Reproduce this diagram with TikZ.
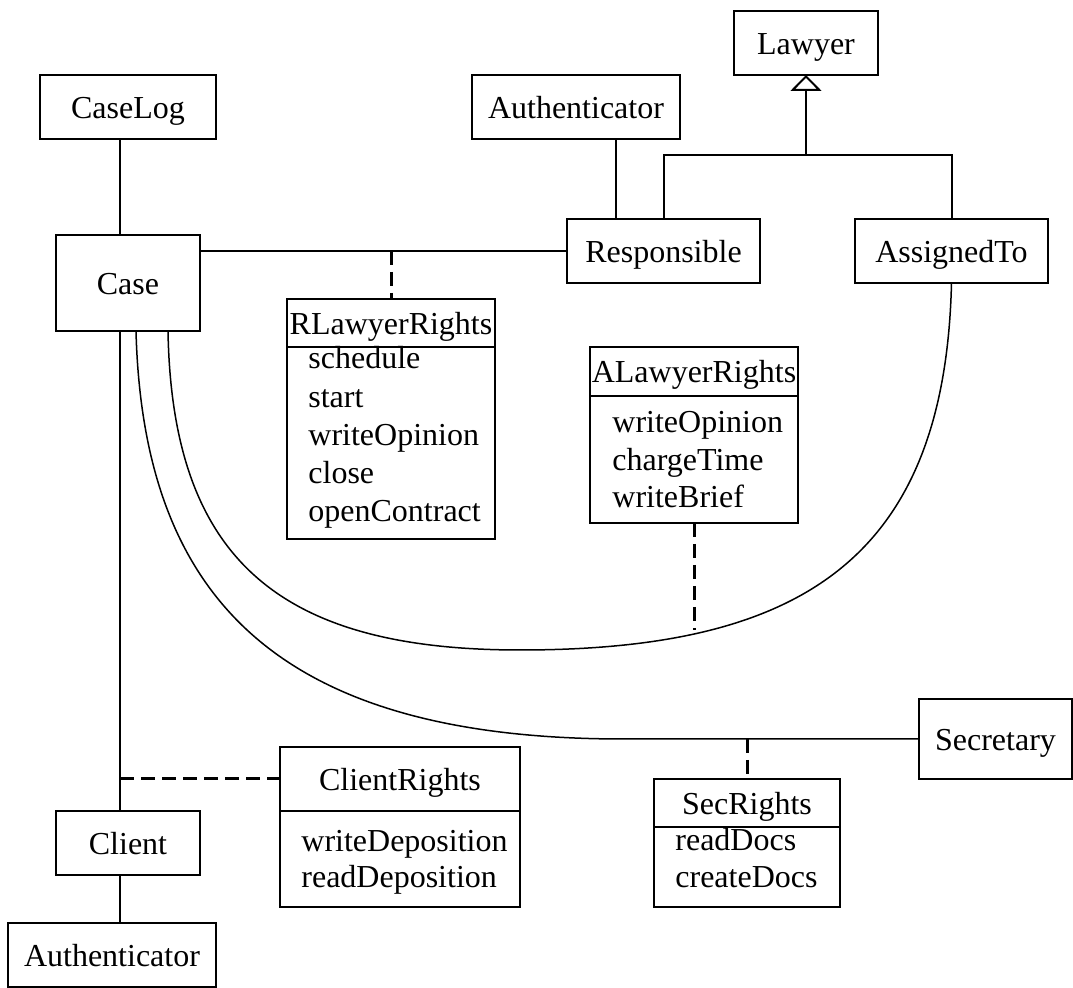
\documentclass[tikz,border=0pt]{standalone}
\usepackage{fontspec}
\setmainfont{Liberation Serif}
\usetikzlibrary{arrows.meta,calc}

\tikzset{
  every node/.style={font=\fontsize{16}{19}\selectfont},
  box/.style={draw, line width=1pt, inner sep=0pt, outer sep=0pt, text height=11.2pt, text depth=0pt},
  item/.style={anchor=base west, inner sep=0pt},
  link/.style={line width=1pt},
  curvelink/.style={line width=0.75pt},
  assoc/.style={line width=1.5pt, dash pattern=on 7pt off 3.5pt},
}

\begin{document}
\begin{tikzpicture}[x=0.5pt, y=-0.5pt]
\useasboundingbox (0,0) rectangle (1073,988);

% plain classes
\node[box, minimum width=88pt, minimum height=32pt] (caselog) at (128,107) {CaseLog};
\node[box, minimum width=72pt, minimum height=48pt] (case) at (128,283) {Case};
\node[box, minimum width=104pt, minimum height=32pt] (authT) at (576,107) {Authenticator};
\node[box, minimum width=72pt, minimum height=32pt] (lawyer) at (806,43) {Lawyer};
\node[box, minimum width=96.5pt, minimum height=32pt] (resp) at (663.5,251) {Responsible};
\node[box, minimum width=96.5pt, minimum height=32pt] (assigned) at (951.5,251) {AssignedTo};
\node[box, minimum width=72pt, minimum height=32pt] (client) at (128,843) {Client};
\node[box, minimum width=104pt, minimum height=32pt] (authB) at (112,955) {Authenticator};
\node[box, minimum width=76.5pt, minimum height=40pt] (secretary) at (995.5,739) {Secretary};

% association classes: header and operations compartment
\node[box, minimum width=104pt, minimum height=24pt] (rlrh) at (391,323) {RLawyerRights};
\node[box, minimum width=104pt, minimum height=96pt, anchor=north] (rlrb) at (rlrh.south) {};
\node[item] (r1) at (308,369) {schedule};
\node[item] (r2) at (308,408) {start};
\node[item] (r3) at (308,446) {writeOpinion};
\node[item] (r4) at (308,484) {close};
\node[item] (r5) at (308,522) {openContract};

\node[box, minimum width=104pt, minimum height=24.5pt] (alrh) at (694,371.5) {ALawyerRights};
\node[box, minimum width=104pt, minimum height=63.5pt, anchor=north] (alrb) at (alrh.south) {};
\node[item] (a1) at (612,433) {writeOpinion};
\node[item] (a2) at (612,471) {chargeTime};
\node[item] (a3) at (612,508) {writeBrief};

\node[box, minimum width=120pt, minimum height=32pt] (crh) at (400,779) {ClientRights};
\node[box, minimum width=120pt, minimum height=48pt, anchor=north] (crb) at (crh.south) {};
\node[item] (c1) at (301,852) {writeDeposition};
\node[item] (c2) at (301,888) {readDeposition};

\node[box, minimum width=93pt, minimum height=24pt] (srh) at (747,803) {SecRights};
\node[box, minimum width=93pt, minimum height=40pt, anchor=north] (srb) at (srh.south) {};
\node[item] (s1) at (675,851) {readDocs};
\node[item] (s2) at (675,888) {createDocs};

% helper coordinates
\coordinate (colx) at (120,0);
\coordinate (authx) at (616,0);
\coordinate (gen) at (806,155);
\coordinate (alrfoot) at (694,630);

% straight associations
\draw[link] (caselog.south -| colx) -- (case.north -| colx);
\draw[link] (case.south -| colx) -- (client.north -| colx);
\draw[link] (client.south -| colx) -- (authB.north -| colx);
\draw[link] (case.east |- resp.west) -- (resp.west);
\draw[link] (authT.south -| authx) -- (resp.north -| authx);

% generalization
\draw[link] (resp.north) |- (gen) -| (assigned.north);
\draw[link, -{Triangle[open, length=8pt, width=15.5pt]}] (gen) -- (lawyer.south);

% curved associations
\draw[curvelink] ($(case.south)+(40,0)$) .. controls (172,560) and (280,650) .. (520,650)
  .. controls (800,650) and (945,560) .. (assigned.south);
\draw[curvelink] ($(case.south)+(8,0)$) .. controls (143,600) and (280,738) .. (620,739)
  -- (secretary.west);

% association class links
\draw[assoc] (rlrh.north |- resp.west) -- (rlrh.north);
\draw[assoc] (alrb.south) -- (alrfoot);
\draw[assoc] (crh.west -| colx) -- (crh.west);
\draw[assoc] (srh.north |- secretary.west) -- (srh.north);
\end{tikzpicture}
\end{document}
